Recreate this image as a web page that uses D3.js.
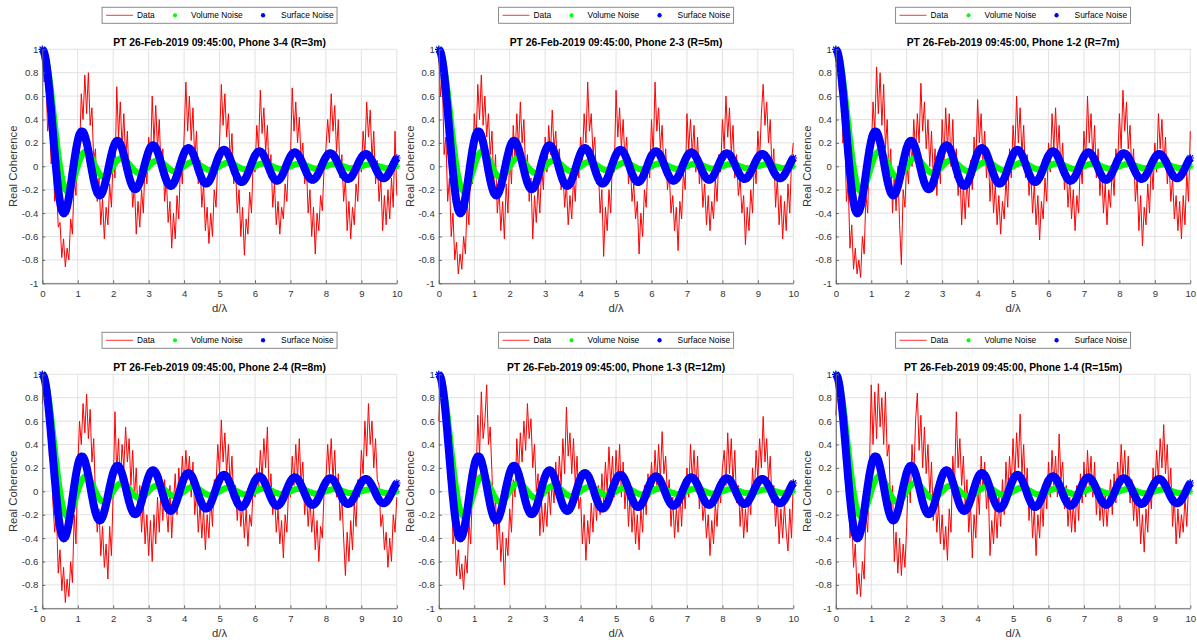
<!DOCTYPE html>
<html>
<head>
<meta charset="utf-8">
<script src="https://cdn.jsdelivr.net/npm/d3@7"></script>
<style>
  body { margin: 0; background: #fff; }
  text { font-family: "Liberation Sans", Arial, sans-serif; }
</style>
</head>
<body>
<div id="chart"></div>
<script>
// theoretical curves, sampled every 0.05 in d/lambda
const volumeNoise = [
  1.000,0.984,0.935,0.858,0.757,0.637,0.505,0.368,0.234,0.109,
  0.000,-0.089,-0.156,-0.198,-0.216,-0.212,-0.189,-0.151,-0.104,-0.052,
  0.000,0.047,0.085,0.112,0.126,0.127,0.116,0.095,0.067,0.034,
  0.000,-0.032,-0.058,-0.078,-0.089,-0.091,-0.084,-0.070,-0.049,-0.025,
  0.000,0.024,0.045,0.060,0.069,0.071,0.066,0.055,0.039,0.020,
  0.000,-0.019,-0.036,-0.049,-0.056,-0.058,-0.054,-0.045,-0.032,-0.017,
  0.000,0.016,0.030,0.041,0.047,0.049,0.046,0.038,0.028,0.014,
  0.000,-0.014,-0.026,-0.035,-0.041,-0.042,-0.040,-0.033,-0.024,-0.012,
  0.000,0.012,0.023,0.031,0.036,0.037,0.035,0.030,0.021,0.011,
  0.000,-0.011,-0.020,-0.028,-0.032,-0.034,-0.032,-0.027,-0.019,-0.010,
  0.000,0.010,0.018,0.025,0.029,0.030,0.029,0.024,0.017,0.009,
  0.000,-0.009,-0.017,-0.023,-0.027,-0.028,-0.026,-0.022,-0.016,-0.008,
  0.000,0.008,0.015,0.021,0.024,0.025,0.024,0.020,0.015,0.008,
  0.000,-0.008,-0.014,-0.019,-0.023,-0.024,-0.022,-0.019,-0.014,-0.007,
  0.000,0.007,0.013,0.018,0.021,0.022,0.021,0.018,0.013,0.007,
  0.000,-0.007,-0.012,-0.017,-0.020,-0.021,-0.019,-0.016,-0.012,-0.006,
  0.000,0.006,0.012,0.016,0.018,0.019,0.018,0.015,0.011,0.006,
  0.000,-0.006,-0.011,-0.015,-0.017,-0.018,-0.017,-0.015,-0.011,-0.005,
  0.000,0.005,0.010,0.014,0.016,0.017,0.016,0.014,0.010,0.005,
  0.000,-0.005,-0.010,-0.013,-0.016,-0.016,-0.015,-0.013,-0.009,-0.005,
  0.000
]

const surfaceNoise = [
  1.000,0.975,0.904,0.790,0.643,0.472,0.291,0.111,-0.055,-0.196,
  -0.304,-0.374,-0.402,-0.390,-0.343,-0.266,-0.169,-0.062,0.045,0.142,
  0.220,0.274,0.297,0.294,0.261,0.204,0.131,0.047,-0.038,-0.117,
  -0.181,-0.226,-0.248,-0.245,-0.219,-0.172,-0.110,-0.039,0.034,0.101,
  0.158,0.197,0.217,0.215,0.192,0.151,0.097,0.034,-0.030,-0.091,
  -0.141,-0.177,-0.195,-0.193,-0.173,-0.137,-0.088,-0.031,0.028,0.083,
  0.129,0.162,0.178,0.177,0.159,0.126,0.080,0.028,-0.026,-0.077,
  -0.120,-0.150,-0.166,-0.165,-0.148,-0.117,-0.075,-0.026,0.024,0.072,
  0.112,0.141,0.155,0.154,0.139,0.110,0.070,0.025,-0.023,-0.068,
  -0.106,-0.133,-0.146,-0.146,-0.131,-0.104,-0.066,-0.023,0.022,0.064,
  0.100,0.126,0.139,0.139,0.125,0.099,0.063,0.022,-0.021,-0.061,
  -0.096,-0.120,-0.133,-0.132,-0.119,-0.094,-0.060,-0.021,0.020,0.059,
  0.092,0.115,0.127,0.127,0.114,0.090,0.058,0.020,-0.019,-0.057,
  -0.088,-0.111,-0.122,-0.122,-0.110,-0.087,-0.056,-0.019,0.019,0.055,
  0.085,0.107,0.118,0.118,0.106,0.084,0.054,0.019,-0.018,-0.053,
  -0.082,-0.103,-0.114,-0.114,-0.102,-0.081,-0.052,-0.018,0.017,0.051,
  0.079,0.100,0.110,0.110,0.099,0.079,0.050,0.017,-0.017,-0.049,
  -0.077,-0.097,-0.107,-0.107,-0.096,-0.076,-0.049,-0.017,0.016,0.048,
  0.075,0.094,0.104,0.104,0.094,0.074,0.048,0.017,-0.016,-0.047,
  -0.073,-0.092,-0.101,-0.101,-0.091,-0.072,-0.046,-0.016,0.016,0.046,
  0.071
]

// measured coherence, one array per phone pair (same 0.05 grid)
const coherence34 = [
  0.98,0.72,0.80,0.30,0.42,0.02,0.10,-0.30,-0.18,-0.52,
  -0.48,-0.78,-0.62,-0.86,-0.70,-0.80,-0.45,-0.58,-0.10,-0.25,
  0.30,0.10,0.62,0.40,0.78,0.45,0.80,0.35,0.50,0.05,
  0.15,-0.30,-0.10,-0.50,-0.28,-0.62,-0.35,-0.50,-0.15,-0.35,
  0.10,-0.10,0.68,0.25,0.55,0.15,0.45,0.05,0.30,-0.15,
  0.00,-0.35,-0.15,-0.58,-0.30,-0.52,-0.20,-0.40,0.05,-0.15,
  0.25,0.00,0.60,0.20,0.52,0.15,0.40,-0.05,0.15,-0.30,
  -0.10,-0.48,-0.30,-0.70,-0.40,-0.62,-0.25,-0.45,0.05,-0.15,
  0.25,0.72,0.30,0.60,0.22,0.50,0.05,0.30,-0.15,0.05,
  -0.35,-0.15,-0.55,-0.35,-0.66,-0.40,-0.60,-0.20,-0.35,0.05,
  0.20,0.70,0.35,0.62,0.25,0.45,0.05,0.28,-0.15,0.00,
  -0.40,-0.20,-0.60,-0.35,-0.76,-0.45,-0.58,-0.22,-0.40,0.05,
  -0.05,0.35,0.15,0.65,0.28,0.50,0.12,0.35,-0.10,0.10,
  -0.35,-0.15,-0.50,-0.30,-0.58,-0.35,-0.45,-0.15,-0.30,0.10,
  0.05,0.67,0.30,0.55,0.20,0.42,0.05,0.20,-0.15,0.00,
  -0.40,-0.20,-0.60,-0.35,-0.75,-0.40,-0.55,-0.25,-0.38,0.00,
  0.15,0.40,0.20,0.62,0.30,0.52,0.12,0.40,-0.10,0.10,
  -0.30,-0.10,-0.55,-0.30,-0.62,-0.35,-0.50,-0.15,-0.30,0.10,
  -0.05,0.30,0.10,0.55,0.25,0.48,0.05,0.30,-0.15,0.05,
  -0.30,-0.10,-0.55,-0.25,-0.50,-0.20,-0.45,-0.10,-0.35,0.30,
  -0.25
]

const coherence23 = [
  0.95,0.60,0.75,0.10,0.25,-0.30,-0.10,-0.60,-0.40,-0.80,
  -0.65,-0.92,-0.75,-0.88,-0.60,-0.75,-0.30,-0.50,0.05,-0.15,
  0.45,0.20,0.70,0.40,0.78,0.35,0.60,0.25,0.45,0.10,
  0.30,-0.15,0.10,-0.40,-0.20,-0.55,-0.30,-0.62,-0.15,-0.40,
  0.10,-0.15,0.35,0.05,0.45,0.15,0.55,0.20,0.40,-0.05,
  0.10,-0.30,-0.10,-0.62,-0.25,-0.48,-0.15,-0.40,0.00,-0.20,
  0.25,-0.05,0.35,0.10,0.48,0.15,0.30,-0.05,0.15,-0.20,
  -0.05,-0.35,-0.15,-0.50,-0.25,-0.45,-0.10,-0.30,0.10,-0.10,
  0.25,0.05,0.45,0.20,0.72,0.30,0.45,0.10,0.25,-0.15,
  0.00,-0.40,-0.20,-0.77,-0.35,-0.55,-0.20,-0.40,0.10,-0.05,
  0.65,0.25,0.50,0.15,0.40,0.05,0.25,-0.15,0.05,-0.30,
  -0.15,-0.45,-0.30,-0.75,-0.40,-0.60,-0.20,-0.35,0.05,-0.10,
  0.40,0.10,0.72,0.30,0.50,0.15,0.35,-0.05,0.15,-0.20,
  -0.05,-0.40,-0.25,-0.55,-0.35,-0.72,-0.30,-0.45,-0.05,-0.20,
  0.45,0.15,0.40,0.10,0.35,-0.05,0.25,-0.15,0.00,-0.35,
  -0.15,-0.50,-0.25,-0.55,-0.30,-0.45,-0.10,-0.30,0.10,-0.05,
  0.40,0.15,0.60,0.25,0.50,0.10,0.35,-0.10,0.10,-0.25,
  -0.10,-0.40,-0.25,-0.67,-0.35,-0.55,-0.20,-0.40,0.05,-0.15,
  0.30,0.05,0.45,0.70,0.35,0.55,0.20,0.40,-0.05,0.15,
  -0.35,-0.10,-0.50,-0.25,-0.62,-0.30,-0.55,-0.15,-0.40,0.05,
  0.20
]

const coherence12 = [
  0.85,0.95,0.65,0.75,0.20,0.35,-0.30,-0.15,-0.70,-0.50,
  -0.88,-0.70,-0.92,-0.80,-0.95,-0.60,-0.75,-0.25,-0.40,0.20,
  0.10,0.55,0.30,0.85,0.45,0.80,0.35,0.70,0.15,0.40,
  -0.10,0.15,-0.40,-0.05,-0.38,0.00,-0.50,-0.84,-0.20,-0.35,
  0.05,-0.15,0.25,0.00,0.40,0.10,0.45,0.20,0.71,0.30,
  0.55,0.15,0.40,0.00,0.30,-0.10,0.15,-0.25,0.10,-0.15,
  0.40,0.05,0.50,0.15,0.45,0.00,0.40,-0.10,0.15,-0.25,
  0.00,-0.50,-0.15,-0.45,-0.10,-0.35,0.05,-0.20,0.25,0.00,
  0.57,0.20,0.45,0.05,0.30,-0.10,0.15,-0.30,0.00,-0.40,
  -0.15,-0.50,-0.25,-0.58,-0.30,-0.45,-0.10,-0.35,0.15,-0.10,
  0.35,0.10,0.60,0.20,0.50,0.10,0.35,-0.10,0.10,-0.25,
  -0.05,-0.40,-0.15,-0.50,-0.25,-0.63,-0.30,-0.45,-0.10,-0.30,
  0.20,-0.05,0.45,0.15,0.50,0.10,0.35,-0.05,0.20,-0.20,
  0.00,-0.35,-0.10,-0.45,-0.20,-0.55,-0.25,-0.40,0.05,-0.15,
  0.30,0.05,0.60,0.20,0.45,0.05,0.35,-0.10,0.15,-0.25,
  0.00,-0.40,-0.15,-0.50,-0.20,-0.35,0.00,-0.25,0.15,0.00,
  0.45,0.15,0.65,0.30,0.55,0.15,0.35,-0.05,0.15,-0.30,
  -0.10,-0.55,-0.25,-0.68,-0.35,-0.50,-0.15,-0.40,0.05,-0.20,
  0.20,-0.05,0.45,0.15,0.40,0.00,0.25,-0.15,0.05,-0.30,
  -0.10,-0.45,-0.25,-0.55,-0.30,-0.62,-0.25,-0.50,-0.05,-0.30,
  0.30
]

const coherence24 = [
  0.75,0.95,0.72,0.85,0.30,0.45,-0.10,-0.35,-0.20,-0.70,
  -0.50,-0.85,-0.65,-0.95,-0.75,-0.90,-0.60,-0.78,-0.20,-0.45,
  0.20,0.60,0.40,0.75,0.50,0.83,0.45,0.70,0.25,0.45,
  -0.05,-0.35,-0.15,-0.55,-0.30,-0.65,-0.45,-0.75,-0.30,-0.55,
  0.00,0.68,0.15,0.45,0.05,0.40,0.20,0.55,0.25,0.45,
  0.05,0.35,-0.05,0.20,-0.20,0.05,-0.35,-0.10,-0.45,-0.20,
  -0.55,-0.25,-0.60,-0.20,-0.45,-0.05,-0.35,0.05,-0.25,0.10,
  -0.15,-0.35,0.05,-0.40,-0.10,0.15,-0.20,0.20,-0.05,0.30,
  0.05,0.35,0.10,0.30,-0.05,0.25,-0.20,0.00,-0.35,-0.10,
  -0.40,-0.15,-0.50,-0.20,-0.40,-0.05,-0.30,0.10,0.05,0.40,
  0.15,0.61,0.25,0.50,0.15,0.40,0.05,0.30,-0.10,0.05,
  -0.25,0.00,-0.30,-0.10,-0.40,-0.15,-0.47,-0.20,-0.30,0.05,
  -0.05,0.20,0.00,0.35,0.10,0.45,0.20,0.55,-0.05,0.15,
  -0.20,0.00,-0.35,-0.15,-0.45,-0.25,-0.57,-0.20,-0.35,0.05,
  -0.05,0.30,0.05,0.40,0.10,0.45,0.05,0.25,-0.20,0.00,
  -0.30,-0.05,-0.35,-0.15,-0.50,-0.25,-0.60,-0.30,-0.40,0.00,
  0.10,0.40,0.15,0.45,0.10,0.35,-0.05,0.15,-0.25,-0.05,
  -0.40,-0.72,-0.35,-0.60,-0.25,-0.50,-0.10,-0.30,0.10,-0.05,
  0.35,0.15,0.60,0.30,0.75,0.40,0.60,0.20,0.45,0.10,
  0.05,-0.30,-0.20,-0.50,-0.35,-0.65,-0.40,-0.60,-0.20,-0.35,
  -0.05
]

const coherence13 = [
  0.60,0.95,0.70,0.85,0.35,0.50,-0.05,0.20,-0.45,-0.30,
  -0.72,-0.50,-0.75,-0.62,-0.84,-0.55,-0.70,-0.25,-0.45,0.05,
  0.30,0.10,0.65,0.30,0.85,0.45,0.60,0.91,0.40,0.55,
  0.15,-0.30,-0.05,-0.50,-0.20,-0.60,-0.35,-0.80,-0.40,-0.55,
  -0.15,-0.35,0.10,-0.05,0.45,0.15,0.50,0.25,0.60,0.35,
  0.75,0.45,0.62,0.20,0.40,0.00,0.15,-0.38,-0.10,-0.35,
  -0.10,-0.30,0.05,-0.20,0.10,-0.10,0.25,-0.05,0.30,0.05,
  0.45,0.15,0.72,0.30,0.50,0.15,0.45,0.05,0.30,-0.15,
  -0.05,-0.45,-0.20,-0.59,-0.25,-0.45,-0.10,-0.35,0.00,-0.25,
  0.05,-0.20,0.15,-0.10,0.25,0.00,0.38,0.05,0.30,-0.05,
  0.35,0.05,0.40,-0.05,0.25,-0.15,0.10,-0.30,0.00,-0.35,
  -0.10,-0.45,-0.20,-0.50,-0.15,-0.35,0.05,-0.20,0.15,-0.05,
  0.25,0.00,0.35,0.05,0.40,0.10,0.51,0.15,0.30,-0.05,
  0.10,-0.30,-0.05,-0.40,-0.15,-0.35,0.00,-0.30,0.10,-0.15,
  0.20,-0.05,0.40,0.10,0.35,0.00,0.30,-0.15,0.05,-0.25,
  -0.10,-0.40,-0.20,-0.55,-0.25,-0.45,-0.10,-0.30,0.05,-0.10,
  0.20,0.35,0.05,0.50,0.15,0.45,0.05,0.35,-0.10,0.05,
  -0.30,-0.05,-0.40,-0.15,-0.35,0.00,-0.20,0.20,-0.05,0.35,
  0.10,0.45,0.20,0.64,0.25,0.45,0.10,0.30,-0.10,0.05,
  -0.30,-0.05,-0.45,-0.15,-0.40,-0.10,-0.35,-0.51,-0.15,-0.40,
  0.10
]

const coherence14 = [
  0.65,0.90,0.70,0.85,0.40,0.55,-0.05,0.15,-0.40,-0.20,
  -0.65,-0.45,-0.88,-0.70,-0.90,-0.60,-0.75,-0.20,-0.35,0.20,
  0.91,0.40,0.85,0.45,0.92,0.55,0.80,0.40,0.85,0.30,
  0.40,-0.25,0.05,-0.60,-0.35,-0.70,-0.40,-0.72,-0.45,-0.65,
  -0.30,0.20,-0.10,0.40,0.10,0.60,0.84,0.35,0.65,0.20,
  0.55,0.15,0.40,-0.05,0.25,-0.25,0.00,-0.35,-0.10,-0.45,
  -0.20,-0.50,-0.30,-0.59,-0.15,-0.35,0.30,0.05,0.68,0.20,
  0.45,0.05,0.30,-0.15,0.10,-0.35,-0.10,-0.57,-0.20,-0.40,
  0.05,-0.20,0.30,0.00,0.25,-0.15,0.05,-0.55,-0.25,-0.45,
  -0.10,-0.40,-0.05,-0.30,0.10,-0.20,0.25,-0.05,0.30,0.05,
  0.45,0.10,0.50,0.20,0.66,0.15,0.40,-0.05,0.20,-0.25,
  0.00,-0.40,-0.15,-0.55,-0.20,-0.40,-0.05,-0.30,0.10,-0.15,
  0.25,-0.05,0.35,0.05,0.30,-0.05,0.49,0.10,0.25,-0.15,
  0.05,-0.30,-0.05,-0.35,-0.10,-0.35,0.05,-0.25,0.15,-0.10,
  0.25,-0.05,0.35,0.05,0.30,-0.05,0.25,-0.20,0.05,-0.25,
  -0.05,-0.30,0.00,-0.30,-0.10,0.10,-0.20,0.15,-0.10,0.25,
  0.00,0.40,0.10,0.35,0.00,0.30,-0.10,0.10,-0.25,0.00,
  -0.30,-0.05,-0.45,-0.20,-0.52,-0.15,-0.35,0.05,-0.15,0.20,
  0.00,0.35,0.10,0.45,0.20,0.57,0.15,0.40,-0.05,0.20,
  -0.30,-0.05,-0.45,-0.15,-0.40,-0.20,-0.35,-0.05,-0.30,0.05,
  0.10
]

const panelTitles = [
  "PT 26-Feb-2019 09:45:00, Phone 3-4 (R=3m)",
  "PT 26-Feb-2019 09:45:00, Phone 2-3 (R=5m)",
  "PT 26-Feb-2019 09:45:00, Phone 1-2 (R=7m)",
  "PT 26-Feb-2019 09:45:00, Phone 2-4 (R=8m)",
  "PT 26-Feb-2019 09:45:00, Phone 1-3 (R=12m)",
  "PT 26-Feb-2019 09:45:00, Phone 1-4 (R=15m)"
]
const panelData = [coherence34, coherence23, coherence12, coherence24, coherence13, coherence14]

const xTicks = [0, 1, 2, 3, 4, 5, 6, 7, 8, 9, 10]
const yTicks = [-1, -0.8, -0.6, -0.4, -0.2, 0, 0.2, 0.4, 0.6, 0.8, 1]
const yTickLabels = ["-1", "-0.8", "-0.6", "-0.4", "-0.2", "0", "0.2", "0.4", "0.6", "0.8", "1"]
const legendLabels = ["Data", "Volume Noise", "Surface Noise"]

const sampleStep = 0.05
const dLambda = d3.range(volumeNoise.length).map(i => i * sampleStep)

const width = 1197
const height = 642
const colLeft = [42.3, 438.8, 835.8]
const rowTop = [49.3, 374.3]
const plotW = 354.5
const plotH = 234

const svg = d3.select("#chart").append("svg")
    .attr("width", width)
    .attr("height", height)
    .style("display", "block")
    .style("background", "#fff")

// matlab style '*' marker
const asterisk = r => {
    const d = r * 0.72
    return `M${-r},0L${r},0M0,${-r}L0,${r}M${-d},${-d}L${d},${d}M${-d},${d}L${d},${-d}`
}

const drawPanel = (idx) => {
    const left = colLeft[idx % 3]
    const top = rowTop[Math.floor(idx / 3)]
    const g = svg.append("g").attr("transform", `translate(${left},${top})`)

    const x = d3.scaleLinear().domain([0, 10]).range([0, plotW])
    const y = d3.scaleLinear().domain([-1, 1]).range([plotH, 0])

    // grid
    g.append("g").selectAll("line").data(xTicks).join("line")
        .attr("x1", d => x(d)).attr("x2", d => x(d))
        .attr("y1", 0).attr("y2", plotH)
        .attr("stroke", "#e2e2e2").attr("stroke-width", 1)
    g.append("g").selectAll("line").data(yTicks).join("line")
        .attr("x1", 0).attr("x2", plotW)
        .attr("y1", d => y(d)).attr("y2", d => y(d))
        .attr("stroke", "#e2e2e2").attr("stroke-width", 1)

    // data
    const line = d3.line().x((d, i) => x(dLambda[i])).y(d => y(d))
    g.append("path")
        .datum(panelData[idx])
        .attr("d", line)
        .attr("fill", "none")
        .attr("stroke", "#ff0000")
        .attr("stroke-width", 1)
        .attr("stroke-linejoin", "round")

    const smooth = d3.line().x((d, i) => x(dLambda[i])).y(d => y(d)).curve(d3.curveCatmullRom)

    // volume noise
    g.append("path").datum(volumeNoise).attr("d", smooth)
        .attr("fill", "none").attr("stroke", "#00ff00").attr("stroke-width", 6)
    g.append("g").selectAll("path").data(volumeNoise).join("path")
        .attr("d", asterisk(3))
        .attr("transform", (d, i) => `translate(${x(dLambda[i])},${y(d)})`)
        .attr("fill", "none").attr("stroke", "#00ff00").attr("stroke-width", 1.2)

    // surface noise
    g.append("path").datum(surfaceNoise).attr("d", smooth)
        .attr("fill", "none").attr("stroke", "#0000ff").attr("stroke-width", 8)
    g.append("g").selectAll("path").data(surfaceNoise).join("path")
        .attr("d", asterisk(3.8))
        .attr("transform", (d, i) => `translate(${x(dLambda[i])},${y(d)})`)
        .attr("fill", "none").attr("stroke", "#0000ff").attr("stroke-width", 1.2)

    // axes
    const xAxis = g.append("g")
        .attr("transform", `translate(0,${plotH})`)
        .call(d3.axisBottom(x).tickValues(xTicks).tickFormat(d => d)
            .tickSizeInner(-3).tickSizeOuter(0).tickPadding(7))
    const yAxis = g.append("g")
        .call(d3.axisLeft(y).tickValues(yTicks).tickFormat((d, i) => yTickLabels[i])
            .tickSizeInner(-3).tickSizeOuter(0).tickPadding(4))
    for (const ax of [xAxis, yAxis]) {
        ax.attr("font-family", null).attr("font-size", null)
        ax.select(".domain").attr("stroke", "#666")
        ax.selectAll(".tick line").attr("stroke", "#666")
        ax.selectAll(".tick text").attr("fill", "#333").style("font-size", "9.6px")
    }

    // labels
    g.append("text")
        .attr("x", plotW / 2).attr("y", -3.5)
        .attr("text-anchor", "middle")
        .style("font-size", "10.3px").style("font-weight", "bold")
        .attr("fill", "#000")
        .text(panelTitles[idx])
    g.append("text")
        .attr("x", plotW / 2).attr("y", plotH + 25).attr("dy", "0.35em")
        .attr("text-anchor", "middle")
        .style("font-size", "11.3px").attr("fill", "#333")
        .text("d/λ")
    g.append("text")
        .attr("transform", `translate(-29,${plotH / 2}) rotate(-90)`)
        .attr("dy", "0.35em")
        .attr("text-anchor", "middle")
        .style("font-size", "11.3px").attr("fill", "#333")
        .text("Real Coherence")

    // legend
    const lg = g.append("g").attr("transform", `translate(${plotW / 2 - 117.5},-42)`)
    lg.append("rect").attr("width", 235).attr("height", 16)
        .attr("fill", "#fff").attr("stroke", "#8a8a8a").attr("stroke-width", 1)
    lg.append("line").attr("x1", 4).attr("x2", 31).attr("y1", 8).attr("y2", 8)
        .attr("stroke", "#ff0000").attr("stroke-width", 0.8)
    lg.append("path").attr("d", asterisk(2)).attr("transform", "translate(73,8)")
        .attr("fill", "none").attr("stroke", "#00ff00").attr("stroke-width", 1.3)
    lg.append("path").attr("d", asterisk(2.2)).attr("transform", "translate(161,8)")
        .attr("fill", "none").attr("stroke", "#0000ff").attr("stroke-width", 1.3)
    lg.selectAll("text.lbl").data(legendLabels).join("text")
        .attr("class", "lbl")
        .attr("x", (d, i) => [35, 89, 179][i]).attr("y", 11.2)
        .style("font-size", "8.4px").attr("fill", "#000")
        .text(d => d)
}

for (let i = 0; i < 6; i++) drawPanel(i)
</script>
</body>
</html>
